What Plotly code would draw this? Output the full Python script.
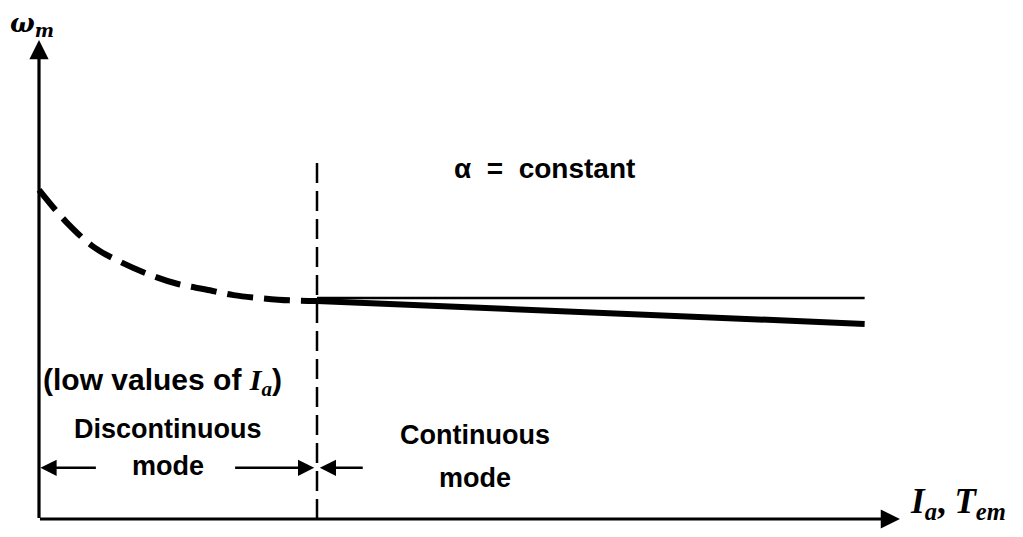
import plotly.graph_objects as go

# Armature current (normalised to the mode boundary) and motor speed
current_disc = [0.0, 0.1, 0.2, 0.3, 0.4, 0.5, 0.6, 0.7, 0.8, 0.9, 1.0]
speed_disc = [1.51, 1.36, 1.245, 1.175, 1.12, 1.078, 1.053, 1.027, 1.013, 1.003, 1.0]

current_cont = [1.0, 2.97]
speed_cont = [1.0, 0.895]

current_ideal = [1.0, 2.97]
speed_ideal = [1.014, 1.014]

boundary_current = 1.0
boundary_top = 1.67

x_axis_end = 3.097
y_axis_end = 2.197

INK = "#000000"
SANS = "Liberation Sans, Arial, sans-serif"
SERIF = "Liberation Serif, DejaVu Serif, serif"

fig = go.Figure()

# discontinuous-conduction region (dashed curve)
fig.add_trace(go.Scatter(x=current_disc, y=speed_disc, mode="lines",
                         line=dict(color=INK, width=6, dash="26px,11px", shape="spline"),
                         hoverinfo="skip"))
# ideal constant-speed reference line
fig.add_trace(go.Scatter(x=current_ideal, y=speed_ideal, mode="lines",
                         line=dict(color=INK, width=2.5), hoverinfo="skip"))
# continuous-conduction region (drooping line)
fig.add_trace(go.Scatter(x=current_cont, y=speed_cont, mode="lines",
                         line=dict(color=INK, width=6), hoverinfo="skip"))
# mode boundary
fig.add_trace(go.Scatter(x=[boundary_current, boundary_current], y=[0, boundary_top],
                         mode="lines", line=dict(color=INK, width=2.5, dash="20px,8px"),
                         hoverinfo="skip"))

def arrow(x, y, ax, ay, width=3, size=1.3):
    fig.add_annotation(x=x, y=y, ax=ax, ay=ay, xref="x", yref="y", axref="x", ayref="y",
                       showarrow=True, arrowhead=2, arrowsize=size, arrowwidth=width,
                       arrowcolor=INK, text="")

# axes with arrowheads
arrow(0, y_axis_end, 0, -0.002, width=3.2, size=1.2)
arrow(x_axis_end, 0, -0.002, 0, width=3.2, size=1.2)

# mode-range arrows
arrow(0.005, 0.235, 0.21, 0.235, width=2.5, size=1.3)
arrow(0.99, 0.235, 0.70, 0.235, width=2.5, size=1.3)
arrow(1.01, 0.235, 1.17, 0.235, width=2.5, size=1.3)

def label(x, y, text, size=27, family=SANS, xanchor="center"):
    fig.add_annotation(x=x, y=y, xref="x", yref="y", text=text, showarrow=False,
                       xanchor=xanchor, yanchor="middle",
                       font=dict(family=family, size=size, color=INK))

label(-0.11, 2.27, "<b><i>ω</i></b><sub><b><i>m</i></b></sub>", size=26,
      family="DejaVu Serif, serif", xanchor="left")
label(3.125, 0.07,
      "<b><i>I</i></b><sub><b><i>a</i></b></sub><b>, </b><b><i>T</i></b><sub><b><i>em</i></b></sub>",
      size=35, family=SERIF, xanchor="left")
label(1.82, 1.61, "<b>α  =  constant</b>", size=28)
label(0.008, 0.63,
      "<b>(low values of </b><b><i style='font-family:Liberation Serif'>I</i></b>"
      "<sub><b><i style='font-family:Liberation Serif'>a</i></b></sub><b>)</b>",
      size=30, xanchor="left")
label(0.465, 0.415, "<b>Discontinuous</b>", size=27)
label(0.465, 0.245, "<b>mode</b>", size=27)
label(1.57, 0.385, "<b>Continuous</b>", size=27)
label(1.57, 0.19, "<b>mode</b>", size=27)

fig.update_layout(
    width=1023, height=537,
    margin=dict(l=0, r=0, t=0, b=0),
    paper_bgcolor="white", plot_bgcolor="white",
    showlegend=False,
    xaxis=dict(range=[-0.1403, 3.5396], visible=False, fixedrange=True),
    yaxis=dict(range=[-0.0826, 2.381], visible=False, fixedrange=True),
)

fig.write_html("out.html")
